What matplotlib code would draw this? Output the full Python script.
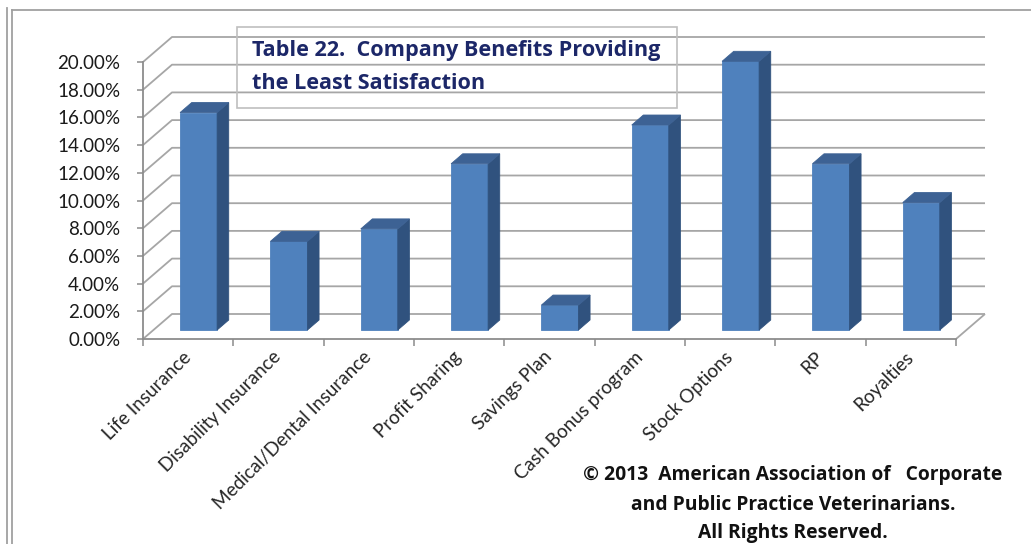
import matplotlib
matplotlib.use("Agg")
import matplotlib.pyplot as plt
from matplotlib.patches import Polygon, Rectangle
from matplotlib.lines import Line2D

# ---- data -------------------------------------------------------------
categories = [
    "Life Insurance",
    "Disability Insurance",
    "Medical/Dental Insurance",
    "Profit Sharing",
    "Savings Plan",
    "Cash Bonus program",
    "Stock Options",
    "RP",
    "Royalties",
]
shares = [15.7, 6.4, 7.3, 12.0, 1.8, 14.8, 19.4, 12.0, 9.2]  # percent

y_ticks = [0, 2, 4, 6, 8, 10, 12, 14, 16, 18, 20]
y_tick_labels = [f"{t:.2f}%" for t in y_ticks]

title_lines = ["Table 22.  Company Benefits Providing", "the Least Satisfaction"]
credit_lines = [
    "\u00a9 2013  American Association of   Corporate",
    "and Public Practice Veterinarians.",
    "All Rights Reserved.",
]

# ---- style --------------------------------------------------------------
plt.rcParams["font.family"] = ["Lato", "DejaVu Sans"]
BOLD_FONT = ["Open Sans", "DejaVu Sans"]
FRONT = "#4F81BD"
SIDE = "#30527E"
TOP = "#3D6294"
GRID = "#a6a6a6"
AXIS = "#8c8c8c"
TITLE_C = "#1c2768"

W, H = 1031, 544
fig = plt.figure(figsize=(W / 100, H / 100), dpi=100)
fig.patch.set_facecolor("white")


def fx(px):
    return px / W


def fy(py):
    return 1 - py / H


# front plane of the 3-D plot area
X0, X1, Y0, Y1 = 143, 956, 339, 62
ax = fig.add_axes([fx(X0), fy(Y0), (X1 - X0) / W, (Y0 - Y1) / H])
n = len(categories)
ax.set_xlim(0, n)
ax.set_ylim(0, 20)
ax.patch.set_alpha(0)

# depth of the box (29 px right, 25 px up) expressed in data units
px_per_cat = (X1 - X0) / n
px_per_pct = (Y0 - Y1) / 20
DX = 29 / px_per_cat
DY = 25 / px_per_pct

# back wall + side wall gridlines, floor edge
grid_kw = dict(color=GRID, lw=1.3, clip_on=False, zorder=1, solid_capstyle="butt")
for t in y_ticks:
    ax.plot([0, DX, n + DX], [t, t + DY, t + DY], **grid_kw)
ax.plot([n, n + DX], [0, DY], **grid_kw)

# 3-D columns
BAR_W = 0.41
F0, F1 = 0.36, 0.76
ddx, ddy = (F1 - F0) * DX, (F1 - F0) * DY
for i, v in enumerate(shares):
    xl = i + 0.5 - BAR_W / 2 + F0 * DX
    xr = xl + BAR_W
    yb = F0 * DY
    yt = v + F0 * DY
    faces = [
        ([(xl, yb), (xr, yb), (xr, yt), (xl, yt)], FRONT),
        ([(xr, yb), (xr + ddx, yb + ddy), (xr + ddx, yt + ddy), (xr, yt)], SIDE),
        ([(xl, yt), (xr, yt), (xr + ddx, yt + ddy), (xl + ddx, yt + ddy)], TOP),
    ]
    for pts, c in faces:
        ax.add_patch(Polygon(pts, closed=True, fc=c, ec=c, lw=0.6,
                             clip_on=False, zorder=3))

# axes
for s in ("top", "right"):
    ax.spines[s].set_visible(False)
for s in ("left", "bottom"):
    ax.spines[s].set_color(AXIS)
    ax.spines[s].set_linewidth(1.3)
    ax.spines[s].set_zorder(4)

ax.set_yticks(y_ticks, y_tick_labels)
ax.tick_params(axis="y", length=4.3, width=1.1, color=AXIS, pad=12,
               labelsize=13.5, labelcolor="#1a1a1a")

ax.set_xticks([i + 0.5 for i in range(n)], categories, rotation=45,
              ha="right", va="center", rotation_mode="anchor")
ax.set_xticks(range(n + 1), minor=True)
ax.tick_params(axis="x", which="major", length=0, pad=11, labelsize=13.6,
               labelcolor="#262626")
ax.tick_params(axis="x", which="minor", length=5, width=1.1, color=AXIS)

# title box
fig.add_artist(Rectangle((fx(237), fy(108)), (677 - 237) / W, (108 - 27) / H,
                         transform=fig.transFigure, fill=False,
                         ec="#bfbfbf", lw=1.2, zorder=5))
for txt, base in zip(title_lines, (56, 89)):
    fig.text(fx(252), fy(base), txt, fontsize=15.6, fontweight="bold",
             family=BOLD_FONT, color=TITLE_C, ha="left", va="baseline",
             zorder=6)

# copyright note
for txt, base in zip(credit_lines, (480, 510, 538)):
    fig.text(fx(793), fy(base), txt, fontsize=13.9, fontweight="bold",
             family=BOLD_FONT, color="#111111", ha="center", va="baseline")

# outer frame
frame_kw = dict(transform=fig.transFigure, color="#a0a0a0", lw=1.3)
fig.add_artist(Line2D([fx(7), fx(7)], [fy(8), 0], **frame_kw))
fig.add_artist(Line2D([fx(12), fx(12)], [fy(10), 0], **frame_kw))
fig.add_artist(Line2D([fx(12), 1], [fy(10), fy(10)], **frame_kw))

fig.savefig("out.png", dpi=100, facecolor="white")
